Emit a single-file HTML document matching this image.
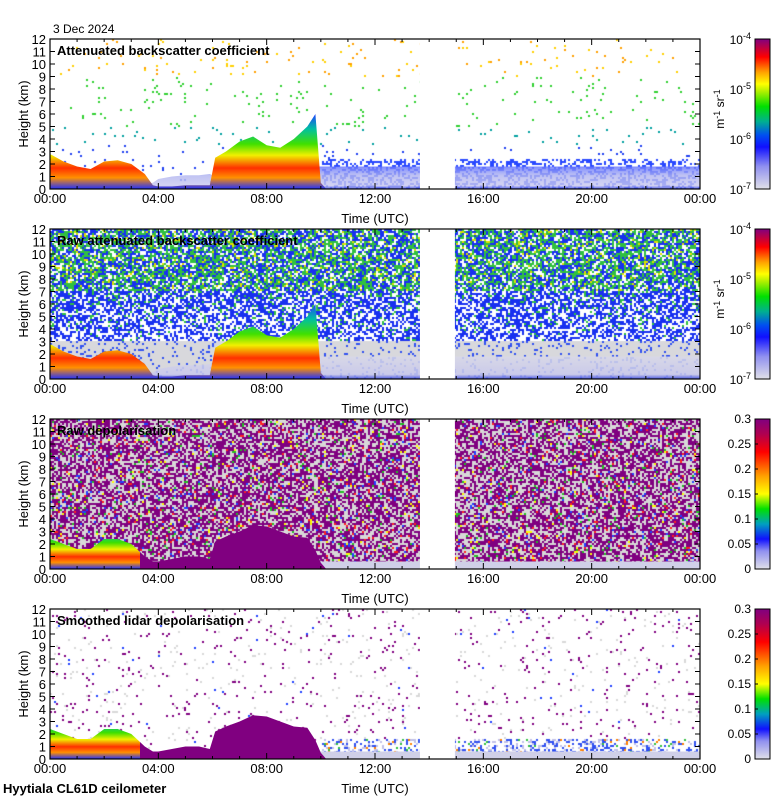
<!DOCTYPE html>
<html><head><meta charset="utf-8"><style>
html,body{margin:0;padding:0;background:#fff;}
#wrap{position:relative;width:780px;height:800px;}
canvas,svg{position:absolute;left:0;top:0;display:block;}
svg{font-family:"Liberation Sans",sans-serif;}
</style></head><body>
<div id="wrap">
<canvas id="tex" width="780" height="800"></canvas>
<svg id="fig" width="780" height="800" viewBox="0 0 780 800" xmlns="http://www.w3.org/2000/svg">
<defs>
<linearGradient id="bsGrad" x1="0" y1="0" x2="0" y2="1">
<stop offset="0" stop-color="#2040ff"/><stop offset="0.2" stop-color="#00c0a0"/><stop offset="0.4" stop-color="#40e000"/><stop offset="0.55" stop-color="#f0f000"/><stop offset="0.72" stop-color="#ff3000"/><stop offset="0.85" stop-color="#ff9000"/><stop offset="1" stop-color="#2030ff"/></linearGradient>
<linearGradient id="hazeGrad" x1="0" y1="0" x2="0" y2="1">
<stop offset="0" stop-color="#6070ff"/><stop offset="0.4" stop-color="#b0b4f0"/><stop offset="0.85" stop-color="#c8c8f0"/><stop offset="1" stop-color="#2030e0"/></linearGradient>
<linearGradient id="hazeGrad2" x1="0" y1="0" x2="0" y2="1">
<stop offset="0" stop-color="#d8d8e8"/><stop offset="0.8" stop-color="#c8c8ec"/><stop offset="1" stop-color="#3040e0"/></linearGradient>
<linearGradient id="cbBs" x1="0" y1="1" x2="0" y2="0">
<stop offset="0" stop-color="#e0e0e8"/><stop offset="0.15" stop-color="#9090f0"/><stop offset="0.28" stop-color="#1010ff"/><stop offset="0.36" stop-color="#0050f0"/><stop offset="0.45" stop-color="#00b090"/><stop offset="0.55" stop-color="#00e000"/><stop offset="0.65" stop-color="#b0f000"/><stop offset="0.7" stop-color="#ffff00"/><stop offset="0.78" stop-color="#ffa000"/><stop offset="0.88" stop-color="#ff0000"/><stop offset="0.94" stop-color="#c00040"/><stop offset="1" stop-color="#800080"/></linearGradient>
<linearGradient id="cbDp" x1="0" y1="1" x2="0" y2="0">
<stop offset="0" stop-color="#e0e0e8"/><stop offset="0.12" stop-color="#9090f0"/><stop offset="0.2" stop-color="#1010ff"/><stop offset="0.3" stop-color="#00a0c0"/><stop offset="0.4" stop-color="#00e000"/><stop offset="0.5" stop-color="#ffff00"/><stop offset="0.62" stop-color="#ffa000"/><stop offset="0.78" stop-color="#ff0000"/><stop offset="0.9" stop-color="#b00050"/><stop offset="1" stop-color="#800080"/></linearGradient>
<clipPath id="clipEarly"><rect x="50" y="0" width="90" height="800"/></clipPath>
<clipPath id="clipLate"><rect x="140" y="0" width="560" height="800"/></clipPath>
</defs>
<g id="root"></g>
</svg>
</div>
<script>
// ---- data (hours, km) ----
const hrs      = [0,0.5,1,1.5,2,2.5,3,3.5,3.8,4,4.5,5,5.5,5.9,6.1,6.5,7,7.5,8,8.5,9,9.5,9.8,10,10.2,24];
const aeroTop  = [2.8,2.2,1.8,1.6,2.2,2.3,2.0,1.2,0.3,0.2,0.2,0.3,0.3,0.3,2.5,3.0,3.8,4.2,3.5,3.3,4.0,5.0,6.0,0.5,0,0];
const hazeTop  = [0.6,0.6,0.5,0.8,0.8,0.8,0.6,0.4,0.5,0.8,1.0,1.1,1.1,1.2,1.0,1.0,1.2,1.5,1.8,1.8,1.8,1.8,1.8,1.8,1.8,1.8];
const depolTop = [2.4,2.0,1.6,1.6,2.4,2.4,2.0,1.0,0.6,0.6,0.8,1.0,1.0,0.8,2.2,2.6,3.0,3.5,3.4,3.0,2.6,2.5,1.5,0.5,0,0];
const gapStart = 13.66, gapEnd = 14.95;
const xTickLabels = ["00:00","04:00","08:00","12:00","16:00","20:00","00:00"];
const yTickLabels = [0,1,2,3,4,5,6,7,8,9,10,11,12];
const depolTicks = ["0","0.05","0.1","0.15","0.2","0.25","0.3"];
const bsExps = ["-4","-5","-6","-7"];
const titles = ["Attenuated backscatter coefficient","Raw attenuated backscatter coefficient","Raw depolarisation","Smoothed lidar depolarisation"];
const panelTops = [39,229,419,609];

const NS="http://www.w3.org/2000/svg";
const root=document.getElementById('root');
const X0=50,X1=700,PH=150;
const x=h=>X0+h*(X1-X0)/24;
const yf=top=>km=>top+PH-km*PH/12;
function el(tag,attrs,parent){const e=document.createElementNS(NS,tag);for(const k in attrs)e.setAttribute(k,attrs[k]);(parent||root).appendChild(e);return e;}

// deterministic hash for texture
function hsh(a,b,c){let h=Math.imul(a+1,0x27d4eb2d)^Math.imul(b+7,0x165667b1)^Math.imul(c+13,0x9e3779b1);
  h=Math.imul(h^(h>>>15),0x85ebca6b);h=Math.imul(h^(h>>>13),0xc2b2ae35);h^=h>>>16;return (h>>>0)/4294967296;}
const ctx=document.getElementById('tex').getContext('2d');
function texture(p,top){
  const cw=2,ch=2;
  for(let j=0;j<PH/ch;j++){
    const km=12-(j+0.5)*ch*12/PH;
    for(let i=0;i<(X1-X0)/cw;i++){
      const r=hsh(i,j,p+1);
      const h=(i*cw)/650*24;
      let c=null;
      if(p==0){
        if(km>2.4){ if(r<0.025) c= km>9?(r<0.012?'#ffd000':'#ffa000'): km>5?'#30d030': km>3.5?'#00a0a0':'#2040f0'; }
        else { if(h>10 && r<0.4) c='#2848ff'; else if(r<0.03) c='#2040f0'; }
      } else if(p==1){
        if(km<3){ c= r<0.12?'#3050f0':'#d8d8dc'; }
        else if(km<7){ const t=(km-3)/4; c= r<0.45+0.1*t?'#1830f0': r<0.48+0.2*t?'#30c040':null; }
        else { c= r<0.35?'#1830f0': r<0.72?'#30c040': r<0.78?'#e0e000':null; }
      } else if(p==2){
        c= r<0.5?'#800080': r<0.525?'#ff2020': r<0.55?'#20c020': r<0.575?'#2040ff': r<0.59?'#ffff00':'#d8d8d8';
      } else {
        c= r<0.025?'#800080': r<0.045?'#d8d8d8': r<0.048?'#2040ff':null;
        if(h>10 && km<1.6 && km>0.5){ c= r<0.2?'#3050f0': r<0.23?'#ff8000': r<0.27?'#30c040': r<0.4?'#c0c0e8':c; }
      }
      if(c){ctx.fillStyle=c;ctx.fillRect(X0+i*cw,top+j*ch,cw,ch);}
    }
  }
}

function areaPath(tops,y){
  let d='M'+x(hrs[0])+','+y(0);
  for(let i=0;i<hrs.length;i++)d+=' L'+x(hrs[i]).toFixed(1)+','+y(tops[i]).toFixed(1);
  d+=' L'+x(hrs[hrs.length-1])+','+y(0)+' Z';return d;
}

panelTops.forEach((top,p)=>{
  texture(p,top);
  const y=yf(top);
  const g=el('g',{});
  
  
  const plot=el('g',{},g);
  
  
  if(p==0){
    el('path',{d:areaPath(hazeTop,y),fill:'url(#hazeGrad)','fill-opacity':0.8},plot);
  } else if(p==1){
    el('path',{d:areaPath(hazeTop,y),fill:'url(#hazeGrad2)','fill-opacity':0.85},plot);
  } else {
    el('rect',{x:x(6),y:y(0.6),width:x(24)-x(6),height:y(0)-y(0.6),fill:'#d0d0e8'},plot);
  }
  if(p<2){
    const a=el('path',{d:areaPath(aeroTop,y),fill:'url(#bsGrad)'},plot);
    
    
  } else {
    const a1=el('path',{d:areaPath(depolTop,y),fill:'url(#bsGrad)','clip-path':'url(#clipEarly)'},plot);
    
    
    const a2=el('path',{d:areaPath(depolTop,y),fill:'#800080','clip-path':'url(#clipLate)'},plot);
    
    
  }
  el('rect',{x:x(gapStart),y:top,width:x(gapEnd)-x(gapStart),height:PH,fill:'#fff'},plot);
  el('rect',{x:X0,y:top,width:650,height:PH,fill:'none',stroke:'#000','stroke-width':1.2},g);
  yTickLabels.forEach(v=>{
    const yy=y(v);
    el('line',{x1:X0,x2:X0+5,y1:yy,y2:yy,stroke:'#000'},g);
    el('line',{x1:X1-5,x2:X1,y1:yy,y2:yy,stroke:'#000'},g);
    const t=el('text',{x:46,y:yy+5,'font-size':13,'text-anchor':'end'},g);t.textContent=v;
    
    
  });
  for(let h=0;h<=24;h++){
    const len=(h%4==0)?6:3;
    el('line',{x1:x(h),x2:x(h),y1:top+PH,y2:top+PH-len,stroke:'#000'},g);
    el('line',{x1:x(h),x2:x(h),y1:top,y2:top+len,stroke:'#000'},g);
  }
  xTickLabels.forEach((l,i)=>{
    const t=el('text',{x:x(i*4),y:top+PH+14,'font-size':13,'text-anchor':'middle'},g);t.textContent=l;
    
    
  });
  const xt=el('text',{x:375,y:top+PH+34,'font-size':13,'text-anchor':'middle'},g);xt.textContent='Time (UTC)';
  
  
  const yt=el('text',{x:0,y:0,'font-size':13,'text-anchor':'middle',transform:'translate(28,'+(top+75)+') rotate(-90)'},g);yt.textContent='Height (km)';
  
  
  const tt=el('text',{x:57,y:top+16,'font-size':13,'font-weight':'bold'},g);tt.textContent=titles[p];
  
  
  const cb=el('g',{},g);
  
  
  el('rect',{x:755,y:top,width:15,height:PH,fill:p<2?'url(#cbBs)':'url(#cbDp)',stroke:'#000'},cb);
  if(p<2){
    bsExps.forEach((e,i)=>{
      const t=el('text',{x:751,y:top+i*50+5,'font-size':12,'text-anchor':'end'},cb);
      t.innerHTML='10<tspan dy="-5" font-size="9">'+e+'</tspan>';
    });
    const u=el('text',{x:0,y:0,'font-size':12,'text-anchor':'middle',transform:'translate(724,'+(top+70)+') rotate(-90)'},cb);
    u.innerHTML='m<tspan dy="-4" font-size="9">-1</tspan><tspan dy="4"> sr</tspan><tspan dy="-4" font-size="9">-1</tspan>';
    
  } else {
    depolTicks.forEach((l,i)=>{
      const yy=top+PH-i*PH/6;
      const t=el('text',{x:751,y:yy+4,'font-size':12,'text-anchor':'end'},cb);t.textContent=l;
      el('line',{x1:755,x2:758,y1:yy,y2:yy,stroke:'#000'},cb);
    });
  }
});
const d=el('text',{x:53,y:33,'font-size':12});d.textContent='3 Dec 2024';


const s=el('text',{x:3,y:793,'font-size':13,'font-weight':'bold'});s.textContent='Hyytiala CL61D ceilometer';


</script>
</body></html>
